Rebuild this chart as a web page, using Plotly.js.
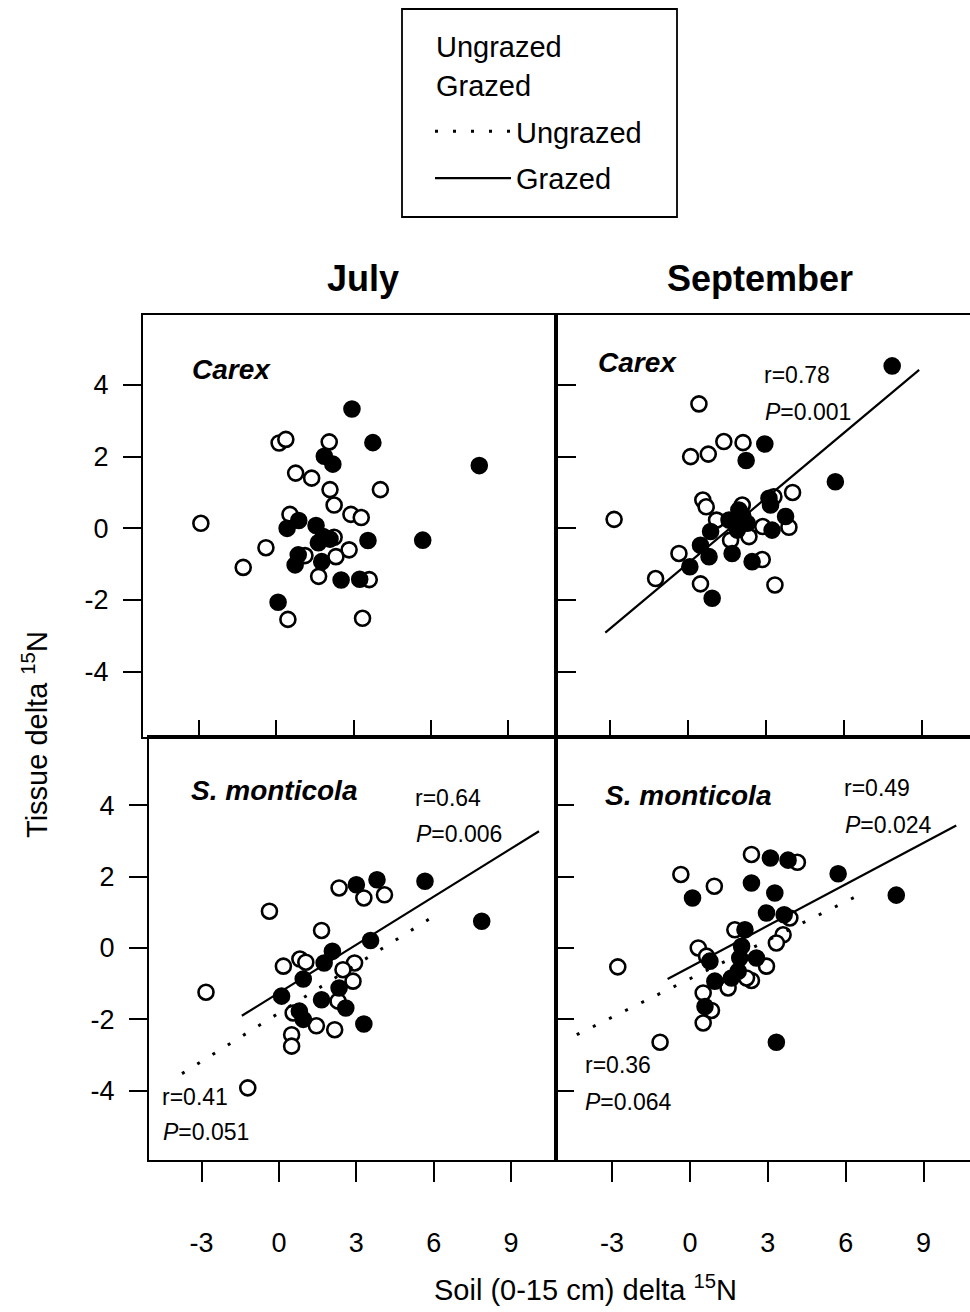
<!DOCTYPE html>
<html><head><meta charset="utf-8">
<script src="https://cdn.plot.ly/plotly-3.0.1.min.js"></script>
<style>html,body{margin:0;padding:0;background:#fff}#plot{width:970px;height:1312px}</style>
</head><body><div id="plot"></div>
<script>
// ---- data ----
// July, Carex
const julCarexUngX = [-2.91, 0.12, 0.38, 2.06, 0.76, 1.38, 2.09, 4.04, 2.25, 2.90, 3.30, 0.54, 2.25, 2.83, 2.32, 1.12, -0.39, -1.27, 1.65, 3.61, 0.46, 3.35];
const julCarexUngY = [0.14, 2.38, 2.48, 2.41, 1.54, 1.40, 1.08, 1.08, 0.65, 0.39, 0.30, 0.39, -0.25, -0.60, -0.79, -0.76, -0.54, -1.09, -1.34, -1.43, -2.54, -2.51];
const julCarexGrzX = [2.94, 3.75, 7.87, 1.87, 2.20, 0.88, 0.43, 1.55, 1.83, 1.64, 2.09, 3.56, 5.68, 0.86, 0.74, 1.77, 2.52, 3.24, 0.08];
const julCarexGrzY = [3.33, 2.39, 1.75, 2.01, 1.79, 0.22, 0.00, 0.08, -0.23, -0.40, -0.30, -0.34, -0.33, -0.74, -1.02, -0.93, -1.44, -1.42, -2.06];
// September, Carex
const sepCarexUngX = [-2.86, 0.41, 0.09, 0.77, 1.37, 2.11, 4.02, 0.56, 0.69, 3.30, 1.09, 1.63, 2.34, 2.87, 3.88, 2.08, -0.36, -1.26, 0.47, 2.85, 3.34];
const sepCarexUngY = [0.25, 3.47, 2.00, 2.07, 2.42, 2.39, 1.00, 0.79, 0.60, 0.88, 0.23, -0.33, -0.23, 0.05, 0.03, 0.65, -0.70, -1.40, -1.55, -0.87, -1.58];
const sepCarexGrzX = [7.86, 2.95, 2.23, 5.67, 3.11, 3.17, 3.75, 3.23, 1.95, 1.57, 2.27, 1.89, 2.10, 0.86, 0.47, 0.80, 1.69, 2.46, 0.06, 0.92];
const sepCarexGrzY = [4.53, 2.35, 1.89, 1.30, 0.84, 0.65, 0.33, -0.05, 0.51, 0.23, 0.14, -0.05, 0.35, -0.09, -0.47, -0.79, -0.70, -0.93, -1.07, -1.95];
// July, S. monticola
const julSalUngX = [-2.83, -0.37, 1.65, 2.33, 3.29, 4.09, 0.81, 0.17, 1.04, 2.93, 2.87, 2.29, 0.55, 1.45, 2.16, 0.49, 0.49, -1.21, 2.48];
const julSalUngY = [-1.24, 1.03, 0.49, 1.68, 1.40, 1.49, -0.31, -0.51, -0.40, -0.42, -0.93, -1.49, -1.82, -2.18, -2.29, -2.43, -2.75, -3.92, -0.61];
const julSalGrzX = [5.66, 7.86, 3.00, 3.80, 3.55, 2.07, 1.75, 0.94, 0.10, 2.33, 1.65, 2.59, 0.79, 0.94, 3.29];
const julSalGrzY = [1.87, 0.75, 1.77, 1.91, 0.21, -0.09, -0.42, -0.87, -1.35, -1.12, -1.45, -1.68, -1.77, -2.00, -2.13];
// September, S. monticola
const sepSalUngX = [2.37, 4.14, -0.35, 0.94, -2.78, 0.32, 1.73, 3.59, 3.33, 3.85, 2.95, 2.37, 1.47, 0.51, 0.83, 0.51, -1.15, 0.64, 2.18];
const sepSalUngY = [2.62, 2.40, 2.06, 1.73, -0.53, 0.00, 0.51, 0.37, 0.14, 0.84, -0.51, -0.91, -1.12, -1.26, -1.75, -2.10, -2.64, -0.23, -0.84];
const sepSalGrzX = [7.95, 5.71, 3.10, 3.78, 2.37, 3.27, 0.10, 2.95, 3.63, 2.12, 1.99, 1.92, 1.86, 2.56, 0.77, 0.96, 1.60, 0.58, 3.33];
const sepSalGrzY = [1.48, 2.08, 2.52, 2.46, 1.82, 1.54, 1.40, 0.98, 0.93, 0.51, 0.05, -0.28, -0.65, -0.28, -0.37, -0.93, -0.84, -1.64, -2.64];
// regression lines (end points)
const sepCarexGrzLineX = [-3.2, 8.9],  sepCarexGrzLineY = [-2.91, 4.42];
const julSalGrzLineX = [-1.44, 10.08], julSalGrzLineY = [-1.90, 3.27];
const julSalUngLineX = [-3.76, 6.09],  julSalUngLineY = [-3.52, 0.93];
const sepSalGrzLineX = [-0.86, 10.26], sepSalGrzLineY = [-0.87, 3.43];
const sepSalUngLineX = [-4.36, 6.73],  sepSalUngLineY = [-2.43, 1.56];
// ticks and texts
const xTicks = [-3, 0, 3, 6, 9];
const xTickText = ['-3', '0', '3', '6', '9'];
const yTicks = [-4, -2, 0, 2, 4];
const yTickText = ['-4', '-2', '0', '2', '4'];
const groupNames = ['Ungrazed', 'Grazed'];
const panelLabels = ['Carex', 'Carex', 'S. monticola', 'S. monticola'];
const statsText = ['r=0.78', '<i>P</i>=0.001', 'r=0.64', '<i>P</i>=0.006', 'r=0.41', '<i>P</i>=0.051', 'r=0.49', '<i>P</i>=0.024', 'r=0.36', '<i>P</i>=0.064'];

// ---- layout helpers ----
const W = 970, H = 1312;
const fx = p => p / W, fy = p => 1 - p / H;
const FONT = 'Liberation Sans, Arial, Helvetica, sans-serif';

function pts(x, y, xa, ya, filled) {
  return {type: 'scatter', mode: 'markers', x: x, y: y, xaxis: xa, yaxis: ya, name: filled ? groupNames[1] : groupNames[0], showlegend: false,
    marker: {size: 15, color: filled ? '#000' : '#fff', line: {color: '#000', width: 2.6}}, hoverinfo: 'x+y'};
}
function fit(x, y, xa, ya, dotted, show) {
  return {type: 'scatter', mode: 'lines', x: x, y: y, xaxis: xa, yaxis: ya,
    name: dotted ? groupNames[0] : groupNames[1], legendgroup: dotted ? 'u' : 'g', showlegend: show,
    line: {color: '#000', width: dotted ? 3 : 2.2, dash: dotted ? '3px,15px' : 'solid'}, hoverinfo: 'skip'};
}

const data = [
  pts(julCarexUngX, julCarexUngY, 'x', 'y', false),
  pts(julCarexGrzX, julCarexGrzY, 'x', 'y', true),
  pts(sepCarexUngX, sepCarexUngY, 'x2', 'y2', false),
  pts(sepCarexGrzX, sepCarexGrzY, 'x2', 'y2', true),
  pts(julSalUngX, julSalUngY, 'x3', 'y3', false),
  pts(julSalGrzX, julSalGrzY, 'x3', 'y3', true),
  pts(sepSalUngX, sepSalUngY, 'x4', 'y4', false),
  pts(sepSalGrzX, sepSalGrzY, 'x4', 'y4', true),
  fit(julSalUngLineX, julSalUngLineY, 'x3', 'y3', true, true),
  fit(sepCarexGrzLineX, sepCarexGrzLineY, 'x2', 'y2', false, true),
  fit(julSalGrzLineX, julSalGrzLineY, 'x3', 'y3', false, false),
  fit(sepSalGrzLineX, sepSalGrzLineY, 'x4', 'y4', false, false),
  fit(sepSalUngLineX, sepSalUngLineY, 'x4', 'y4', true, false)
];

const tickFont = {family: FONT, size: 27, color: '#000'};
function ax(o) {
  return Object.assign({showgrid: false, zeroline: false, linecolor: '#000', linewidth: 2, tickcolor: '#000', tickwidth: 2,
    tickmode: 'array', fixedrange: true, tickfont: tickFont}, o);
}
const topY = [-5.82, 5.95], botY = [-5.94, 5.91];
const rTL = [-5.15, 10.84], rTR = [-5.10, 10.86], rBL = [-5.04, 10.74], rBR = [-5.16, 10.79];
const dTop = [fy(737), fy(315)], dBot = [fy(1160), fy(737)];

const layout = {
  width: W, height: H, margin: {l: 0, r: 0, t: 0, b: 0}, paper_bgcolor: '#fff', plot_bgcolor: 'rgba(0,0,0,0)',
  font: {family: FONT, color: '#000'},
  // top-left
  xaxis: ax({domain: [fx(143), fx(556)], range: rTL, anchor: 'y', tickvals: xTicks, ticktext: xTickText, ticks: 'inside', ticklen: 17, showticklabels: false, showline: true, mirror: true}),
  yaxis: ax({domain: dTop, range: topY, anchor: 'x', tickvals: yTicks, ticktext: yTickText, ticks: 'outside', ticklen: 18, showline: true, mirror: true, ticklabelstandoff: 9}),
  // top-right
  xaxis2: ax({domain: [fx(556), fx(970)], range: rTR, anchor: 'y2', tickvals: xTicks, ticks: 'inside', ticklen: 17, showticklabels: false, showline: true, mirror: true}),
  yaxis2: ax({domain: dTop, range: topY, anchor: 'x2', tickvals: yTicks, ticks: 'inside', ticklen: 20, showticklabels: false, showline: true, mirror: true}),
  // bottom-left
  xaxis3: ax({domain: [fx(149), fx(556)], range: rBL, anchor: 'y3', tickvals: xTicks, ticktext: xTickText, ticks: 'outside', ticklen: 20, showline: true, mirror: true, ticklabelstandoff: 38}),
  yaxis3: ax({domain: dBot, range: botY, anchor: 'x3', tickvals: yTicks, ticktext: yTickText, ticks: 'outside', ticklen: 18, showline: true, mirror: true, ticklabelstandoff: 9}),
  // bottom-right
  xaxis4: ax({domain: [fx(556), fx(970)], range: rBR, anchor: 'y4', tickvals: xTicks, ticktext: xTickText, ticks: 'outside', ticklen: 20, showline: true, mirror: true, ticklabelstandoff: 38}),
  yaxis4: ax({domain: dBot, range: botY, anchor: 'x4', tickvals: yTicks, ticks: 'inside', ticklen: 18, showticklabels: false, showline: true, mirror: true}),
  // inner tick marks on shared edges
  yaxis5: ax({range: topY, overlaying: 'y', side: 'right', anchor: 'x', tickvals: yTicks, ticks: 'inside', ticklen: 15, showticklabels: false, showline: false}),
  yaxis6: ax({range: botY, overlaying: 'y3', side: 'right', anchor: 'x3', tickvals: yTicks, ticks: 'inside', ticklen: 15, showticklabels: false, showline: false}),
  xaxis5: ax({range: rBL, overlaying: 'x3', side: 'top', anchor: 'y3', tickvals: xTicks, ticks: 'inside', ticklen: 18, showticklabels: false, showline: false}),
  xaxis6: ax({range: rBR, overlaying: 'x4', side: 'top', anchor: 'y4', tickvals: xTicks, ticks: 'inside', ticklen: 18, showticklabels: false, showline: false}),
  showlegend: true,
  legend: {x: fx(430), y: fy(155), xanchor: 'left', yanchor: 'middle', bgcolor: 'rgba(0,0,0,0)', borderwidth: 0,
    font: {family: FONT, size: 29, color: '#000'}, itemwidth: 76, tracegroupgap: 6, traceorder: 'grouped'},
  shapes: [
    {type: 'rect', xref: 'paper', yref: 'paper', x0: fx(402), x1: fx(677), y0: fy(217), y1: fy(9), line: {color: '#000', width: 1.8}, fillcolor: 'rgba(0,0,0,0)'}
  ],
  annotations: []
};

function ann(text, x, y, opts) {
  layout.annotations.push(Object.assign({text: text, xref: 'paper', yref: 'paper', x: fx(x), y: fy(y), showarrow: false,
    xanchor: 'left', yanchor: 'middle', font: {family: FONT, size: 23, color: '#000'}}, opts || {}));
}
// legend rows for the point symbols (the reference shows these names without symbols)
ann(groupNames[0], 434, 47, {font: {family: FONT, size: 29, color: '#000'}});
ann(groupNames[1], 434, 86, {font: {family: FONT, size: 29, color: '#000'}});

const bi = {font: {family: FONT, size: 28, color: '#000'}};
ann('<b><i>' + panelLabels[0] + '</i></b>', 190, 369, bi);
ann('<b><i>' + panelLabels[1] + '</i></b>', 596, 363, bi);
ann('<b><i>' + panelLabels[2] + '</i></b>', 189, 790, bi);
ann('<b><i>' + panelLabels[3] + '</i></b>', 603, 795, bi);
const statPos = [[762, 375], [763, 412], [413, 798], [414, 834], [160, 1097], [161, 1132], [842, 788], [843, 825], [583, 1065], [583, 1102]];
statsText.forEach((t, i) => ann(t, statPos[i][0], statPos[i][1]));
ann('<b>July</b>', 363, 278, {xanchor: 'center', font: {family: FONT, size: 36, color: '#000'}});
ann('<b>September</b>', 760, 278, {xanchor: 'center', font: {family: FONT, size: 36, color: '#000'}});
ann('Soil (0-15 cm) delta <sup>15</sup>N', 585, 1288, {xanchor: 'center', font: {family: FONT, size: 29, color: '#000'}});
ann('Tissue delta <sup>15</sup>N', 35, 735, {xanchor: 'center', textangle: -90, font: {family: FONT, size: 29, color: '#000'}});

Plotly.newPlot('plot', data, layout, {displayModeBar: false, staticPlot: true});
</script></body></html>
